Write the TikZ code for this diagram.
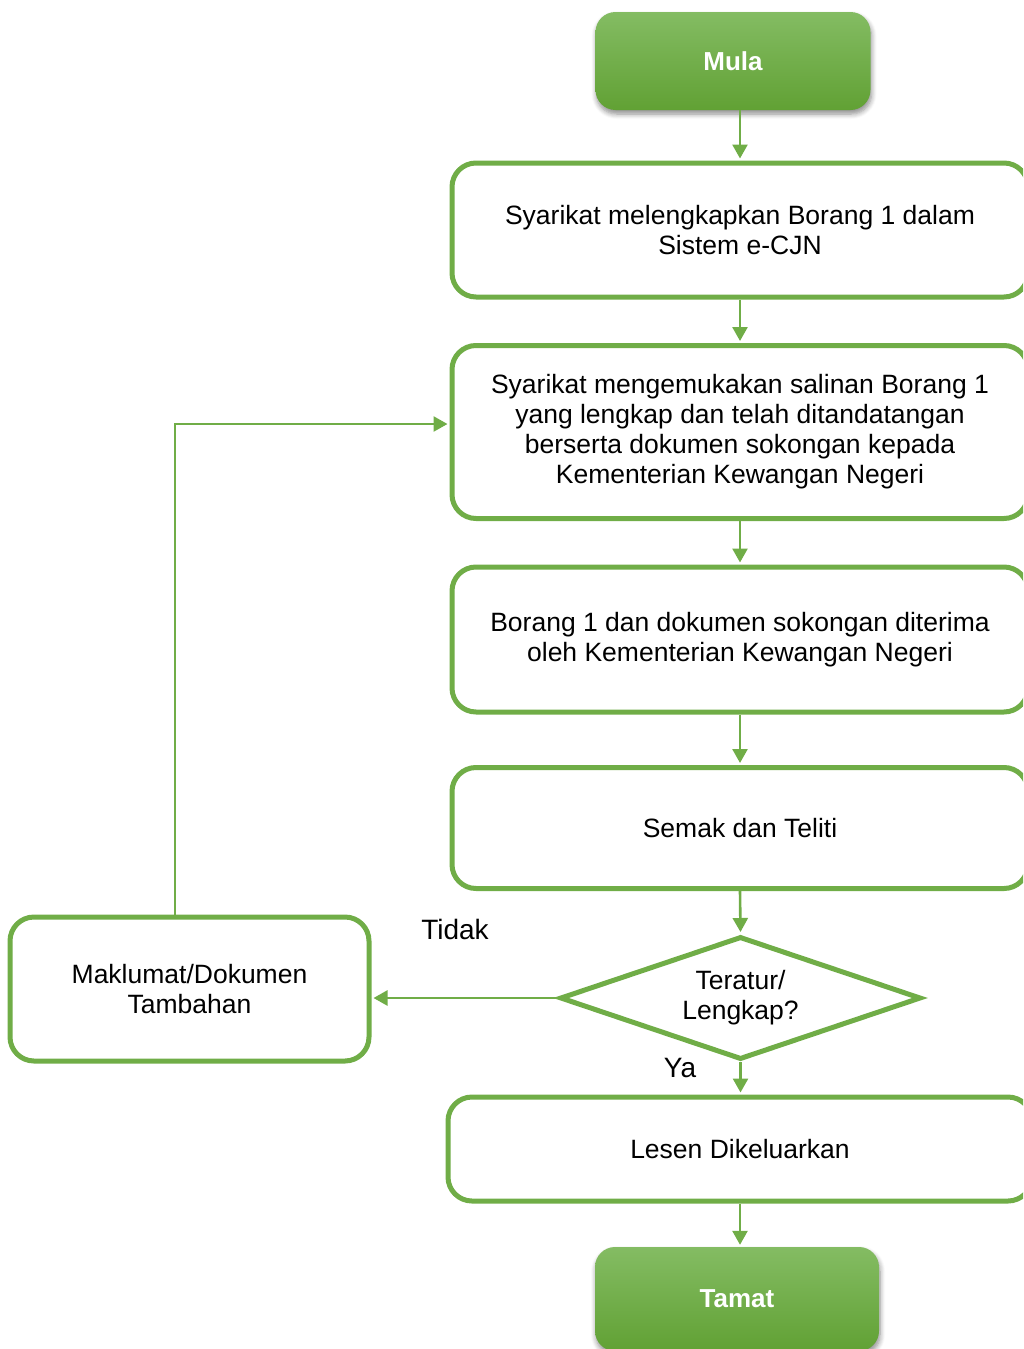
\documentclass[tikz,border=0pt]{standalone}
\usepackage{fontspec}
\setmainfont{Liberation Sans}
\usepackage{tikz}
\usetikzlibrary{arrows.meta, shapes.geometric, shadows.blur}
\usepackage{xcolor}

\definecolor{flowgreen}{RGB}{112,173,71}
\definecolor{termtop}{RGB}{132,188,99}
\definecolor{termbot}{RGB}{97,161,52}

\tikzset{
  stepbox/.style={draw=flowgreen, line width=5pt, rounded corners=24pt, fill=white,
    minimum width=576pt, align=center, inner sep=0pt,
    font=\fontsize{26.5}{30}\selectfont},
  terminal/.style={rounded corners=20pt, top color=termtop, bottom color=termbot,
    text=white, font=\bfseries\fontsize{26}{30}\selectfont,
    blur shadow={shadow xshift=1pt, shadow yshift=-4pt, shadow blur radius=5pt,
      shadow blur steps=6, shadow opacity=45}},
  decision/.style={diamond, aspect=2.9, draw=flowgreen, line width=5pt, fill=white,
    minimum width=361pt, minimum height=123pt, inner sep=0pt, align=center,
    font=\fontsize{26.5}{30}\selectfont},
  answer/.style={font=\fontsize{28}{30}\selectfont},
  flow/.style={draw=flowgreen, line width=2.6pt, shorten >=2pt,
    -{Triangle[length=14pt, width=15pt]}}
}

\begin{document}
\begin{tikzpicture}[x=1pt, y=-1pt]
        \useasboundingbox (0,0) rectangle (1023,1349);
        \clip (0,0) rectangle (1023,1349);
        % start and end
        \node[terminal, minimum width=275pt, minimum height=98pt] (mula) at (733,61) {Mula};
        \node[terminal, minimum width=284pt, minimum height=104pt] (tamat) at (737,1299) {Tamat};
        % steps
        \node[stepbox, minimum height=134pt] (isi) at (740,230)
            {Syarikat melengkapkan Borang 1 dalam\\Sistem e-CJN};
        \node[stepbox, minimum height=173pt] (hantar) at (740,432)
            {Syarikat mengemukakan salinan Borang 1\\yang lengkap dan telah ditandatangan\\berserta dokumen sokongan kepada\\Kementerian Kewangan Negeri};
        \node[stepbox, minimum height=145pt] (terima) at (740,639.5)
            {Borang 1 dan dokumen sokongan diterima\\oleh Kementerian Kewangan Negeri};
        \node[stepbox, minimum height=121pt] (semak) at (740,828)
            {Semak dan Teliti};
        \node[decision] (lengkap) at (740.5,998) {Teratur/\\Lengkap?};
        \node[stepbox, minimum width=584pt, minimum height=104pt] (lesen) at (740,1149)
            {Lesen Dikeluarkan};
        \node[stepbox, minimum width=359pt, minimum height=144pt] (tambah) at (189.5,989)
            {Maklumat/Dokumen\\Tambahan};
        % answers
        \node[answer] (tidak) at (455,929) {Tidak};
        \node[answer] (ya) at (680,1068) {Ya};
        % connectors
        \draw[flow] (mula.south -| isi.north) -- (isi.north);
        \draw[flow] (isi) -- (hantar);
        \draw[flow] (hantar) -- (terima);
        \draw[flow] (terima) -- (semak);
        \draw[flow] (semak.south) -- (lengkap.north);
        \draw[flow] (lengkap.south) -- (lengkap.south |- lesen.north);
        \draw[flow] (lesen.south) -- (lesen.south |- tamat.north);
        \draw[flow] (lengkap.west) -- (lengkap.west -| tambah.east);
        \coordinate (balik) at (175,424);
        \draw[flow] (tambah.north -| balik) -- (balik) -- (balik -| hantar.west);
\end{tikzpicture}
\end{document}
